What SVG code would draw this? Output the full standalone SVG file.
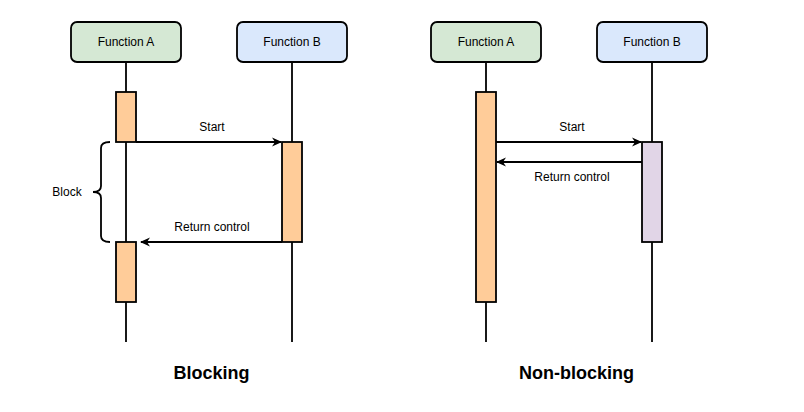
<svg xmlns="http://www.w3.org/2000/svg" width="804" height="412" viewBox="0 0 804 412">
<defs>
<style>
text{font-family:"Liberation Sans",Arial,sans-serif;fill:#000;text-anchor:middle}
.lbl{font-size:12px}
.ttl{font-size:18px;font-weight:bold}
.hdr{stroke:#000;stroke-width:1.8}
.life{stroke:#000;stroke-width:1.8;fill:none}
.act{stroke:#000;stroke-width:1.8}
.arr{stroke:#000;stroke-width:1.8;fill:none}
</style>
<marker id="ah" viewBox="0 0 10 10" refX="9" refY="5" markerWidth="10" markerHeight="10" markerUnits="userSpaceOnUse" orient="auto">
<path d="M0,0.5 L10,5 L0,9.5 L3,5 Z" fill="#000"/>
</marker>
</defs>
<rect width="804" height="412" fill="#fff"/>
<g id="lifelines">
<line class="life" x1="126" y1="62" x2="126" y2="342"/>
<line class="life" x1="292" y1="62" x2="292" y2="342"/>
<line class="life" x1="486" y1="62" x2="486" y2="342"/>
<line class="life" x1="652" y1="62" x2="652" y2="342"/>
</g>
<g id="blockA">
<rect class="hdr" x="71" y="22" width="110" height="40" rx="6" fill="#d5e8d4"/>
<text class="lbl" x="126" y="46">Function A</text>
</g>
<g id="blockB">
<rect class="hdr" x="237" y="22" width="110" height="40" rx="6" fill="#dae8fc"/>
<text class="lbl" x="292" y="46">Function B</text>
</g>
<g id="nbA">
<rect class="hdr" x="431" y="22" width="110" height="40" rx="6" fill="#d5e8d4"/>
<text class="lbl" x="486" y="46">Function A</text>
</g>
<g id="nbB">
<rect class="hdr" x="597" y="22" width="110" height="40" rx="6" fill="#dae8fc"/>
<text class="lbl" x="652" y="46">Function B</text>
</g>
<g id="actA1"><rect class="act" x="116" y="92" width="20" height="50" fill="#ffcc99"/></g>
<g id="actB"><rect class="act" x="282" y="142" width="20" height="100" fill="#ffcc99"/></g>
<g id="actA2"><rect class="act" x="116" y="242" width="20" height="60" fill="#ffcc99"/></g>
<g id="nbActA"><rect class="act" x="476" y="92" width="20" height="210" fill="#ffcc99"/></g>
<g id="nbActB"><rect class="act" x="642" y="142" width="20" height="100" fill="#e1d5e7"/></g>
<g id="brace">
<path d="M110,142 Q101,142 101,148 L101,186 Q101,192 93,192 Q101,192 101,198 L101,236 Q101,242 110,242" fill="none" stroke="#000" stroke-width="1.8"/>
<text class="lbl" x="67" y="196">Block</text>
</g>
<g id="connectors">
<line class="arr" x1="136" y1="142" x2="281" y2="142" marker-end="url(#ah)"/>
<line class="arr" x1="282" y1="242" x2="141" y2="242" marker-end="url(#ah)"/>
<line class="arr" x1="496" y1="142" x2="641" y2="142" marker-end="url(#ah)"/>
<line class="arr" x1="642" y1="162" x2="497" y2="162" marker-end="url(#ah)"/>
<text class="lbl" x="212" y="131">Start</text>
<text class="lbl" x="212" y="231">Return control</text>
<text class="lbl" x="572" y="131">Start</text>
<text class="lbl" x="572" y="181">Return control</text>
</g>
<text class="ttl" x="211.5" y="379">Blocking</text>
<text class="ttl" x="576.5" y="379">Non-blocking</text>
</svg>
